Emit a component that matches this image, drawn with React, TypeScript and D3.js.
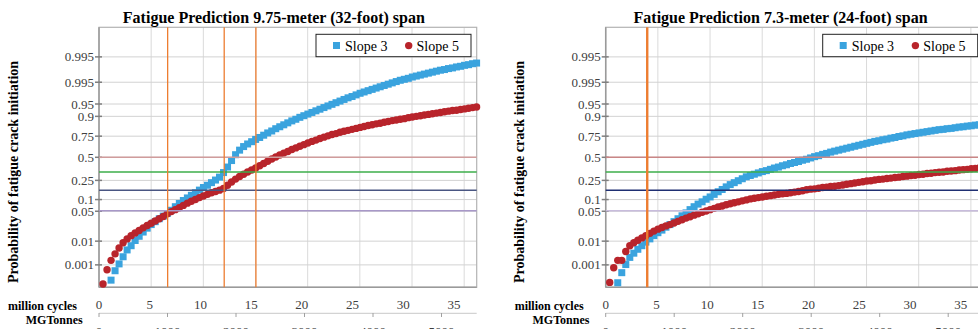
import React, { useEffect, useRef } from "react";
import * as d3 from "d3";

const W = 978;
const H = 329;
const FONT = "Liberation Serif, Times New Roman, Times, serif";

// sample points in million cycles
const cycles = d3.range(1, 95).map(i => +(i * 0.385).toFixed(3));

// normal scores (probit) of the probability
const span32Slope3 = [null, null,
  -3.78, -3.49, -3.28, -3.06, -2.85, -2.72, -2.56, -2.43, -2.30, -2.18,
  -2.07, -1.98, -1.89, -1.81, -1.73, -1.63, -1.52, -1.42, -1.33, -1.25,
  -1.17, -1.09, -1.01, -0.93, -0.86, -0.78, -0.70, -0.61, -0.47, -0.30,
  -0.10, 0.08, 0.22, 0.33, 0.41, 0.48, 0.55, 0.61, 0.68, 0.75,
  0.81, 0.88, 0.94, 1.00, 1.06, 1.12, 1.17, 1.23, 1.28, 1.33,
  1.38, 1.43, 1.48, 1.53, 1.58, 1.63, 1.68, 1.73, 1.78, 1.83,
  1.87, 1.92, 1.97, 2.01, 2.05, 2.09, 2.13, 2.17, 2.21, 2.25,
  2.29, 2.33, 2.37, 2.40, 2.43, 2.47, 2.50, 2.53, 2.56, 2.59,
  2.62, 2.65, 2.68, 2.70, 2.73, 2.75, 2.78, 2.80, 2.83, 2.85,
  2.88, 2.90];
const span32Slope5 = [
  -3.90, -3.46, -3.17, -2.97, -2.79, -2.63, -2.51, -2.41, -2.33, -2.25,
  -2.17, -2.10, -2.03, -1.96, -1.89, -1.82, -1.74, -1.67, -1.61, -1.55,
  -1.48, -1.41, -1.35, -1.30, -1.24, -1.19, -1.14, -1.09, -1.05, -1.01,
  -0.96, -0.86, -0.76, -0.67, -0.59, -0.52, -0.45, -0.39, -0.33, -0.26,
  -0.19, -0.12, -0.05, 0.01, 0.07, 0.13, 0.18, 0.24, 0.29, 0.34,
  0.39, 0.44, 0.49, 0.53, 0.58, 0.62, 0.66, 0.70, 0.73, 0.77,
  0.80, 0.83, 0.86, 0.89, 0.92, 0.95, 0.98, 1.00, 1.03, 1.05,
  1.08, 1.10, 1.13, 1.15, 1.17, 1.19, 1.22, 1.24, 1.26, 1.28,
  1.30, 1.32, 1.34, 1.36, 1.38, 1.40, 1.42, 1.44, 1.45, 1.47,
  1.49, 1.51, 1.53, 1.55];
const span24Slope3 = [null, null,
  -3.86, -3.55, -3.30, -3.08, -2.95, -2.83, -2.72, -2.61, -2.51, -2.41,
  -2.32, -2.24, -2.15, -2.07, -1.98, -1.89, -1.80, -1.71, -1.61, -1.52,
  -1.44, -1.37, -1.29, -1.22, -1.14, -1.06, -0.99, -0.91, -0.84, -0.78,
  -0.72, -0.66, -0.60, -0.56, -0.52, -0.48, -0.44, -0.41, -0.37, -0.33,
  -0.30, -0.26, -0.23, -0.19, -0.16, -0.13, -0.09, -0.06, -0.02, 0.02,
  0.05, 0.09, 0.12, 0.16, 0.19, 0.22, 0.25, 0.28, 0.31, 0.34,
  0.37, 0.40, 0.43, 0.46, 0.49, 0.51, 0.54, 0.56, 0.59, 0.61,
  0.64, 0.66, 0.69, 0.71, 0.73, 0.75, 0.77, 0.79, 0.81, 0.83,
  0.85, 0.86, 0.88, 0.89, 0.91, 0.93, 0.94, 0.96, 0.97, 0.99,
  1.00, 1.02];
const span24Slope5 = [
  -3.85, -3.40, -3.17, -3.17, -2.90, -2.72, -2.63, -2.55, -2.48, -2.41,
  -2.34, -2.27, -2.21, -2.16, -2.11, -2.07, -2.02, -1.97, -1.92, -1.87,
  -1.83, -1.78, -1.74, -1.69, -1.65, -1.61, -1.57, -1.53, -1.50, -1.46,
  -1.43, -1.40, -1.37, -1.34, -1.31, -1.28, -1.26, -1.24, -1.22, -1.20,
  -1.18, -1.16, -1.14, -1.12, -1.11, -1.09, -1.07, -1.05, -1.03, -1.00,
  -0.98, -0.97, -0.95, -0.93, -0.92, -0.90, -0.89, -0.87, -0.85, -0.83,
  -0.81, -0.79, -0.77, -0.75, -0.73, -0.72, -0.70, -0.68, -0.67, -0.65,
  -0.64, -0.62, -0.61, -0.59, -0.58, -0.56, -0.55, -0.53, -0.52, -0.50,
  -0.49, -0.47, -0.46, -0.45, -0.43, -0.42, -0.41, -0.39, -0.38, -0.37,
  -0.35, -0.34, -0.32, -0.31];

// probability axis: labels as printed, placed at their normal score
const probLabels = ["0.995", "0.995", "0.95", "0.9", "0.75", "0.5", "0.25", "0.1", "0.05", "0.01", "0.001"];
const probScores = [3.09, 2.31, 1.64, 1.26, 0.65, 0, -0.71, -1.30, -1.66, -2.58, -3.31];

const cycleTicks = [0, 5, 10, 15, 20, 25, 30, 35];
const cycleGrid = [5, 10, 15, 20, 25, 30, 35];
const tonneTicks = [0, 1000, 2000, 3000, 4000, 5000];

// horizontal reference levels (normal score)
const refScores = [0, -0.45, -1.015, -1.645];
const span32Refs = ["#d09c9c", "#3cae4a", "#4a5682", "#a898c8"];
const span24Refs = ["#c98686", "#3cae4a", "#1f2f72", "#c8bcdc"];

// vertical markers, million cycles
const span32Markers = [6.58, 12.0, 15.04];
const span24Markers = [3.98];

const BLUE = "#3aa3de";
const RED = "#b8242b";

const ProbChart = props => {
  const ref = useRef(null);

  useEffect(() => {
    const g = d3.select(ref.current);
    g.selectAll("*").remove();
    g.attr("font-family", FONT);

    const left = props.left;
    const width = 377.7;
    const top = 27.3;
    const bottom = 287.3;
    const right = left + width;

    const x = d3.scaleLinear().domain([0, 36.2]).range([left, right]);
    const y = d3.scaleLinear().domain([-4, 4]).range([bottom, top]);
    const xLabel = d3.scaleLinear().domain([0, 35]).range([left, left + 355]);
    const xTonne = d3.scaleLinear().domain([0, 5000]).range([left, left + 342.5]);

    // grid
    g.selectAll(".vgrid").data(cycleGrid).enter().append("line")
      .attr("x1", d => x(d)).attr("x2", d => x(d))
      .attr("y1", top).attr("y2", bottom)
      .attr("stroke", "#dadada").attr("stroke-width", 1);
    g.selectAll(".hgrid").data(probScores).enter().append("line")
      .attr("x1", left).attr("x2", right)
      .attr("y1", d => y(d)).attr("y2", d => y(d))
      .attr("stroke", "#d2d2d2").attr("stroke-width", 1);

    // frame
    g.append("rect")
      .attr("x", left).attr("y", top)
      .attr("width", width).attr("height", bottom - top)
      .attr("fill", "none").attr("stroke", "#b3b3b3").attr("stroke-width", 1.2);
    g.append("line").attr("x1", left).attr("x2", left).attr("y1", top).attr("y2", bottom)
      .attr("stroke", "#9a9a9a").attr("stroke-width", 1.5);
    g.append("line").attr("x1", left).attr("x2", right).attr("y1", bottom).attr("y2", bottom)
      .attr("stroke", "#9a9a9a").attr("stroke-width", 1.5);

    // y ticks + labels
    g.selectAll(".ytick").data(probScores).enter().append("line")
      .attr("x1", left - 4).attr("x2", left + 3)
      .attr("y1", d => y(d)).attr("y2", d => y(d))
      .attr("stroke", "#7f7f7f").attr("stroke-width", 1.5);
    g.selectAll(".ylab").data(probScores).enter().append("text")
      .attr("x", left - 5).attr("y", d => y(d) + 4.5)
      .attr("text-anchor", "end")
      .attr("font-size", 13).attr("fill", "#404040")
      .text((d, i) => probLabels[i]);

    // series
    const pts = vals => cycles.map((c, i) => ({ c, v: vals[i] })).filter(d => d.v != null);
    g.selectAll(".s3").data(pts(props.slope3)).enter().append("rect")
      .attr("x", d => x(d.c) - 3.5).attr("y", d => y(d.v) - 3.5)
      .attr("width", 7).attr("height", 7)
      .attr("fill", BLUE);
    g.selectAll(".s5").data(pts(props.slope5)).enter().append("circle")
      .attr("cx", d => x(d.c)).attr("cy", d => y(d.v))
      .attr("r", 3.7)
      .attr("fill", RED);

    // reference lines
    g.selectAll(".ref").data(refScores).enter().append("line")
      .attr("x1", left).attr("x2", right)
      .attr("y1", d => y(d)).attr("y2", d => y(d))
      .attr("stroke", (d, i) => props.refColors[i]).attr("stroke-width", 1.4);

    g.selectAll(".mark").data(props.markers).enter().append("line")
      .attr("x1", d => x(d)).attr("x2", d => x(d))
      .attr("y1", top).attr("y2", bottom)
      .attr("stroke", "#ed7d31").attr("stroke-width", props.markerWidth);

    // x label axes
    g.append("text")
      .attr("x", left - 22).attr("y", 310)
      .attr("text-anchor", "end").attr("font-weight", "bold").attr("font-size", 12)
      .text("million cycles");
    g.selectAll(".xlab").data(cycleTicks).enter().append("text")
      .attr("x", d => xLabel(d)).attr("y", 308.5)
      .attr("text-anchor", "middle").attr("font-size", 13).attr("fill", "#404040")
      .text(d => d);

    g.append("line").attr("x1", left).attr("x2", right).attr("y1", 313.3).attr("y2", 313.3)
      .attr("stroke", "#c8c8c8").attr("stroke-width", 1);
    g.selectAll(".ttick").data(tonneTicks).enter().append("line")
      .attr("x1", d => xTonne(d)).attr("x2", d => xTonne(d))
      .attr("y1", 313).attr("y2", 317)
      .attr("stroke", "#a0a0a0").attr("stroke-width", 1);
    g.append("text")
      .attr("x", left - 16.3).attr("y", 324)
      .attr("text-anchor", "end").attr("font-weight", "bold").attr("font-size", 12)
      .text("MGTonnes");
    g.selectAll(".tlab").data(tonneTicks).enter().append("text")
      .attr("x", d => xTonne(d)).attr("y", 335.5)
      .attr("text-anchor", "middle").attr("font-size", 13).attr("fill", "#404040")
      .text(d => d);

    // titles
    g.append("text")
      .attr("x", left + width / 2 - 14).attr("y", 23)
      .attr("text-anchor", "middle").attr("font-weight", "bold").attr("font-size", 16)
      .text(props.title);
    g.append("text")
      .attr("transform", `translate(${left - 81.5}, 172) rotate(-90)`)
      .attr("text-anchor", "middle").attr("font-weight", "bold").attr("font-size", 14)
      .text("Probability of fatigue crack initiation");

    // legend
    const lg = g.append("g").attr("transform", `translate(${right - 160.7}, 34.3)`);
    lg.append("rect").attr("width", 155).attr("height", 22.4)
      .attr("fill", "#fff").attr("stroke", "#222").attr("stroke-width", 1);
    lg.append("rect").attr("x", 17).attr("y", 7.7).attr("width", 7).attr("height", 7).attr("fill", BLUE);
    lg.append("text").attr("x", 29).attr("y", 16.3).attr("font-size", 14).text("Slope 3");
    lg.append("circle").attr("cx", 92.7).attr("cy", 11.3).attr("r", 3.7).attr("fill", RED);
    lg.append("text").attr("x", 100.5).attr("y", 16.3).attr("font-size", 14).text("Slope 5");
  }, [props]);

  return <g ref={ref} />;
};

export default function App() {
  return (
    <svg width={W} height={H} style={{ position: "absolute", left: 0, top: 0, background: "#fff" }}>
      <rect width={W} height={H} fill="#fff" />
      <ProbChart
        left={99}
        title="Fatigue Prediction 9.75-meter (32-foot) span"
        slope3={span32Slope3}
        slope5={span32Slope5}
        refColors={span32Refs}
        markers={span32Markers}
        markerWidth={1.3}
      />
      <ProbChart
        left={605.7}
        title="Fatigue Prediction 7.3-meter (24-foot) span"
        slope3={span24Slope3}
        slope5={span24Slope5}
        refColors={span24Refs}
        markers={span24Markers}
        markerWidth={2.4}
      />
    </svg>
  );
}
